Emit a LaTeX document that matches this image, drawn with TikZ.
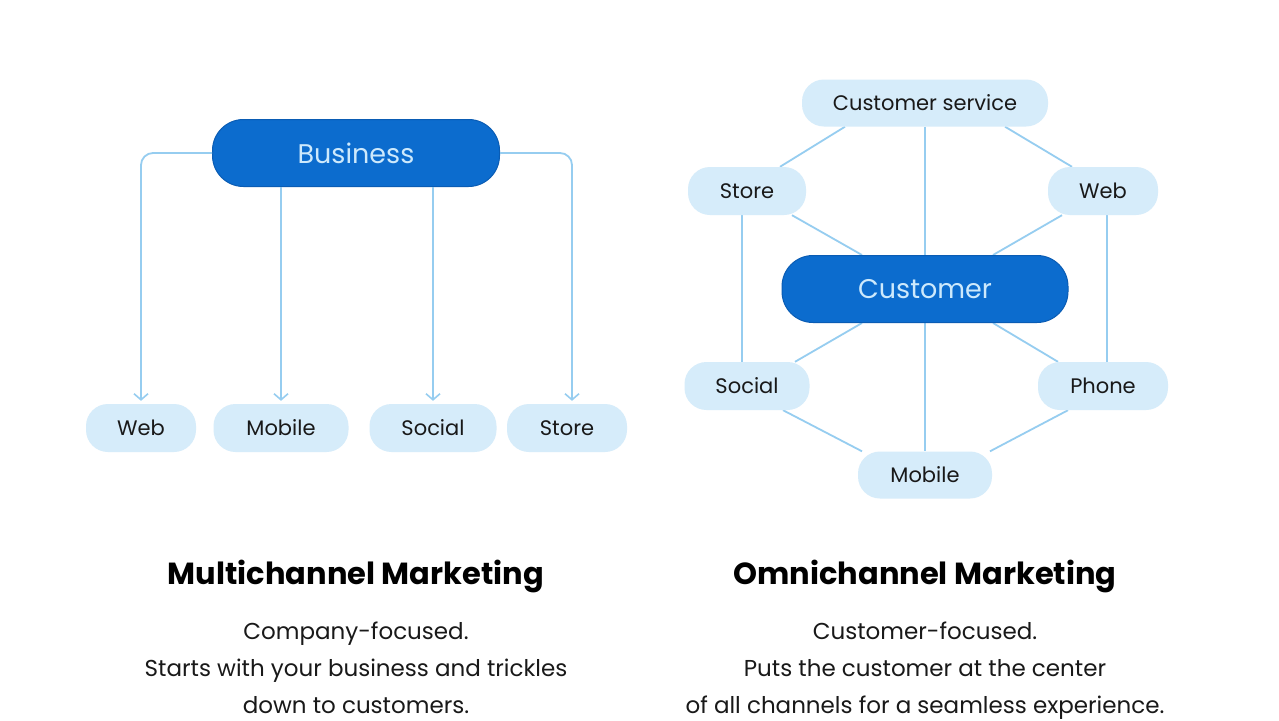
\documentclass[tikz,border=0pt]{standalone}
\usepackage{fontspec}
\setmainfont{Poppins}
\usetikzlibrary{arrows.meta}
\definecolor{dblue}{RGB}{12,108,206}
\definecolor{dborder}{RGB}{10,92,180}
\definecolor{ltext}{RGB}{205,233,252}
\definecolor{lfill}{RGB}{214,236,250}
\definecolor{lline}{RGB}{150,205,240}
\definecolor{dtext}{RGB}{25,25,25}
\pgfdeclarelayer{paper}
\pgfdeclarelayer{background}
\pgfsetlayers{paper,background,main}
\tikzset{
  bigpill/.style={fill=dblue, draw=dborder, line width=1pt, rounded corners=31pt, text=ltext, font=\fontsize{27}{32}\selectfont, inner sep=0pt},
  smallpill/.style={fill=lfill, draw=none, rounded corners=22pt, text=dtext, font=\fontsize{21}{25}\selectfont, inner sep=0pt, minimum height=48pt},
  arr/.style={draw=lline, line width=1.8pt, -{Straight Barb[length=6pt,width=14pt,line width=1.6pt]}, rounded corners=12pt},
  conn/.style={draw=lline, line width=1.8pt},
  title/.style={text=black, anchor=base, font=\fontsize{30.5}{36}\selectfont\bfseries},
  body/.style={text=dtext, anchor=base, font=\fontsize{23}{26}\selectfont}
}
\begin{document}
\begin{tikzpicture}[x=1pt,y=-1pt]
\begin{pgfonlayer}{paper}
\fill[white] (0,0) rectangle (1279,720);
\end{pgfonlayer}
\useasboundingbox (0,0) rectangle (1279,720);

% ---------- Multichannel ----------
\node[bigpill, minimum width=287pt, minimum height=67pt] (bus) at (356,153) {Business};
\node[smallpill, minimum width=110pt] (mweb) at (141,428) {Web};
\node[smallpill, minimum width=135pt] (mmob) at (281,428) {Mobile};
\node[smallpill, minimum width=127pt] (msoc) at (433,428) {Social};
\node[smallpill, minimum width=120pt] (msto) at (567,428) {Store};

\draw[arr, shorten >=3pt] (bus.west) -| (mweb.north);
\draw[arr, shorten >=3pt] (bus.south -| mmob.north) -- (mmob.north);
\draw[arr, shorten >=3pt] (bus.south -| msoc.north) -- (msoc.north);
\draw[arr, shorten >=3pt] (bus.east) -| ([xshift=5pt]msto.north);

% ---------- Omnichannel ----------
\node[smallpill, minimum width=246pt, minimum height=47pt] (cs) at (925,103) {Customer service};
\node[smallpill, minimum width=118pt] (ost) at (747,191) {Store};
\node[smallpill, minimum width=110pt] (owe) at (1103,191) {Web};
\node[bigpill, minimum width=286pt, minimum height=67pt] (cust) at (925,289) {Customer};
\node[smallpill, minimum width=125pt] (oso) at (747,386) {Social};
\node[smallpill, minimum width=130pt] (oph) at (1103,386) {Phone};
\node[smallpill, minimum width=134pt, minimum height=47pt] (omo) at (925,475) {Mobile};

\begin{pgfonlayer}{background}
\draw[conn] ([xshift=-80pt]cs.south) -- ([xshift=33pt]ost.north);
\draw[conn] ([xshift=80pt]cs.south) -- ([xshift=-31pt]owe.north);
\draw[conn] (cs.south) -- (cust.north);
\draw[conn] ([xshift=45pt]ost.south) -- ([xshift=-63pt]cust.north);
\draw[conn] ([xshift=-41pt]owe.south) -- ([xshift=68pt]cust.north);
\draw[conn] ([xshift=-5pt]ost.south) -- ([xshift=-5pt]oso.north);
\draw[conn] ([xshift=4pt]owe.south) -- ([xshift=4pt]oph.north);
\draw[conn] ([xshift=-63pt]cust.south) -- ([xshift=48pt]oso.north);
\draw[conn] ([xshift=68pt]cust.south) -- ([xshift=-45pt]oph.north);
\draw[conn] (cust.south) -- (omo.north);
\draw[conn] ([xshift=36pt]oso.south) -- ([xshift=-63pt]omo.north);
\draw[conn] ([xshift=-35pt]oph.south) -- ([xshift=65pt]omo.north);
\end{pgfonlayer}

% ---------- Captions ----------
\node[title] (t1) at (356,584) {Multichannel Marketing};
\node[body] (a1) at (356,639) {Company-focused.};
\node[body] (a2) at (356,676) {Starts with your business and trickles};
\node[body] (a3) at (356,713) {down to customers.};

\node[title] (t2) at (925,584) {Omnichannel Marketing};
\node[body] (b1) at (925,639) {Customer-focused.};
\node[body] (b2) at (925,676) {Puts the customer at the center};
\node[body] (b3) at (925,713) {of all channels for a seamless experience.};
\end{tikzpicture}
\end{document}
